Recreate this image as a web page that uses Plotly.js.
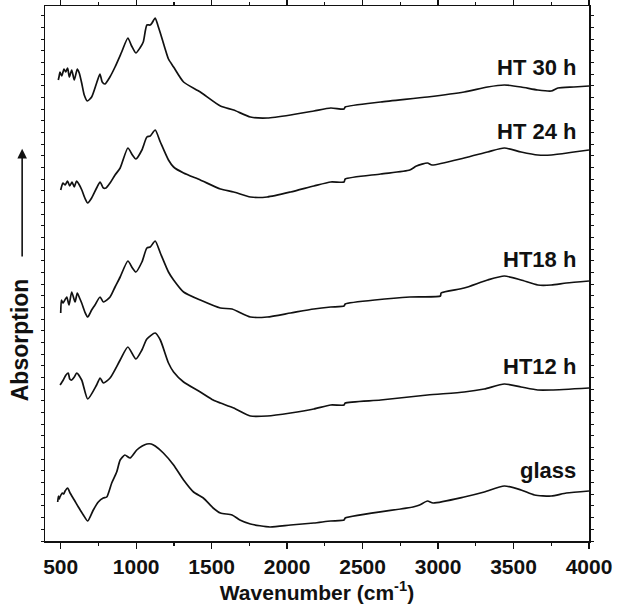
<!DOCTYPE html>
<html>
<head>
<meta charset="utf-8">
<script src="https://cdn.plot.ly/plotly-3.0.1.min.js"></script>
<style>html,body{margin:0;padding:0;background:#fff;}#chart{width:621px;height:610px;}</style>
</head>
<body>
<div id="chart"></div>
<script>
// Wavenumbers (cm-1) and absorption (arbitrary units, spectra offset as in the figure)
const wnHT30 = [484,490,495,507,522,533,546,557,573,590,610,623,639,656,676,705,738,760,775,793,826,860,904,945,970,998,1025,1047,1071,1093,1105,1126,1145,1160,1190,1214,1248,1314,1425,1558,1646,1757,1868,2023,2177,2289,2377,2385,2620,2930,3173,3328,3439,3550,3661,3750,3794,3900,4000];
const absHT30 = [4.61,4.65,4.69,4.65,4.72,4.69,4.73,4.64,4.71,4.61,4.72,4.68,4.58,4.46,4.40,4.44,4.58,4.67,4.59,4.57,4.64,4.74,4.89,5.03,4.95,4.88,4.93,4.99,5.16,5.16,5.18,5.23,5.15,5.08,4.93,4.82,4.74,4.59,4.49,4.35,4.31,4.24,4.23,4.26,4.30,4.33,4.32,4.34,4.39,4.44,4.49,4.54,4.56,4.54,4.51,4.50,4.53,4.54,4.55];

const wnHT24 = [500,507,515,530,545,560,575,590,605,620,640,660,679,705,738,761,783,800,827,860,894,945,975,998,1038,1071,1093,1126,1160,1214,1248,1314,1425,1558,1646,1757,1868,2023,2177,2289,2377,2385,2620,2813,2857,2930,2960,3173,3328,3439,3550,3661,3750,3900,4000];
const absHT24 = [3.51,3.55,3.58,3.56,3.60,3.55,3.59,3.54,3.60,3.57,3.51,3.43,3.38,3.43,3.53,3.59,3.53,3.53,3.58,3.66,3.73,3.93,3.86,3.82,3.91,4.04,4.05,4.11,3.99,3.81,3.74,3.68,3.61,3.52,3.49,3.44,3.44,3.49,3.55,3.59,3.59,3.62,3.67,3.71,3.75,3.78,3.76,3.83,3.89,3.93,3.89,3.86,3.86,3.89,3.91];

const wnHT18 = [500,505,515,540,555,573,595,610,625,639,660,679,705,727,761,783,827,860,894,945,975,998,1038,1071,1093,1126,1160,1214,1248,1314,1425,1558,1635,1757,1868,2023,2177,2289,2377,2385,2813,3016,3020,3173,3328,3439,3550,3661,3750,3850,4000];
const absHT18 = [2.28,2.41,2.38,2.44,2.36,2.49,2.39,2.48,2.43,2.38,2.29,2.24,2.31,2.36,2.44,2.39,2.44,2.54,2.64,2.80,2.73,2.69,2.79,2.93,2.94,3.00,2.88,2.69,2.61,2.49,2.41,2.33,2.32,2.24,2.24,2.28,2.32,2.34,2.35,2.37,2.44,2.45,2.48,2.53,2.61,2.65,2.61,2.56,2.56,2.58,2.60];

const wnHT12 = [496,517,535,550,560,573,590,606,639,679,738,761,783,827,894,945,998,1038,1071,1126,1160,1214,1248,1314,1425,1510,1558,1646,1757,1868,2023,2177,2289,2377,2385,2620,2930,3173,3306,3439,3550,3661,3750,4000];
const absHT12 = [1.56,1.61,1.66,1.68,1.62,1.61,1.64,1.68,1.61,1.42,1.56,1.63,1.58,1.63,1.81,1.94,1.82,1.91,2.02,2.08,2.01,1.78,1.69,1.59,1.49,1.41,1.38,1.33,1.25,1.25,1.28,1.32,1.36,1.36,1.38,1.41,1.46,1.49,1.52,1.57,1.54,1.51,1.51,1.53];

const wnGlass = [480,485,490,495,511,520,529,546,562,590,617,650,679,716,749,782,805,838,871,894,925,960,1004,1040,1071,1100,1126,1180,1248,1314,1380,1445,1510,1558,1635,1687,1757,1886,2023,2177,2289,2377,2385,2834,2878,2930,2967,3173,3306,3439,3550,3639,3750,3850,4000];
const absGlass = [0.39,0.45,0.42,0.44,0.48,0.47,0.50,0.53,0.48,0.41,0.34,0.26,0.20,0.31,0.39,0.43,0.44,0.58,0.69,0.81,0.86,0.83,0.91,0.95,0.97,0.97,0.95,0.88,0.76,0.61,0.49,0.43,0.33,0.28,0.26,0.21,0.17,0.14,0.16,0.18,0.20,0.21,0.23,0.34,0.36,0.40,0.38,0.44,0.49,0.55,0.51,0.46,0.45,0.48,0.50];

const labels = ['HT 30 h','HT 24 h','HT18 h','HT12 h','glass'];
const labelY = [4.74, 4.10, 2.82, 1.75, 0.71];
const labelX = 3925;
const xTickVals = [500,1000,1500,2000,2500,3000,3500,4000];

const FONT = 'Liberation Sans, Arial, Helvetica, sans-serif';
const series = [[wnHT30,absHT30],[wnHT24,absHT24],[wnHT18,absHT18],[wnHT12,absHT12],[wnGlass,absGlass]];
const traces = series.map((s,i)=>({
  x: s[0], y: s[1], type:'scatter', mode:'lines', name: labels[i],
  line:{color:'#111', width:1.7, shape:'spline', smoothing:0.6}, hoverinfo:'skip'
}));

const annotations = labels.map((t,i)=>({
  x: labelX, y: labelY[i], xref:'x', yref:'y', text: t, showarrow:false,
  xanchor:'right', yanchor:'middle',
  font:{family:FONT, size:22, color:'#111', weight:700}
}));
// y-axis title with arrow
annotations.push({
  xref:'paper', yref:'paper', x:-0.046, y:0.377, text:'Absorption', textangle:-90,
  showarrow:false, xanchor:'center', yanchor:'middle',
  font:{family:FONT, size:23, color:'#111', weight:700}
});
annotations.push({
  xref:'paper', yref:'paper', x:-0.042, y:0.733, axref:'paper', ayref:'paper',
  ax:-0.042, ay:0.529, text:'', showarrow:true, arrowhead:2, arrowsize:1.2,
  arrowwidth:1.6, arrowcolor:'#111', standoff:0, startstandoff:0
});

const layout = {
  width:621, height:610,
  margin:{l:45, r:32, t:6, b:69},
  paper_bgcolor:'#fff', plot_bgcolor:'#fff',
  showlegend:false,
  font:{family:FONT, color:'#111'},
  xaxis:{
    range:[396,4000], tickvals:xTickVals, ticks:'outside', ticklen:6, tickwidth:1.3,
    tickcolor:'#111', showline:true, linecolor:'#111', linewidth:1.5, mirror:'allticks',
    showgrid:false, zeroline:false,
    tickfont:{family:FONT, size:21, color:'#111', weight:700},
    minor:{dtick:250, tick0:0, ticks:'outside', ticklen:3, tickwidth:1.2, tickcolor:'#111', showgrid:false},
    title:{text:'Wavenumber (cm<sup>-1</sup>)', font:{family:FONT, size:21, color:'#111', weight:700}, standoff:8}
  },
  yaxis:{
    range:[0,5.35], tick0:0, dtick:0.1167, ticks:'outside', ticklen:3, tickwidth:1,
    tickcolor:'#111', showticklabels:false, showline:true, linecolor:'#111', linewidth:1.5,
    mirror:'allticks', showgrid:false, zeroline:false
  },
  annotations: annotations
};

Plotly.newPlot('chart', traces, layout, {displayModeBar:false, staticPlot:true});
</script>
</body>
</html>
